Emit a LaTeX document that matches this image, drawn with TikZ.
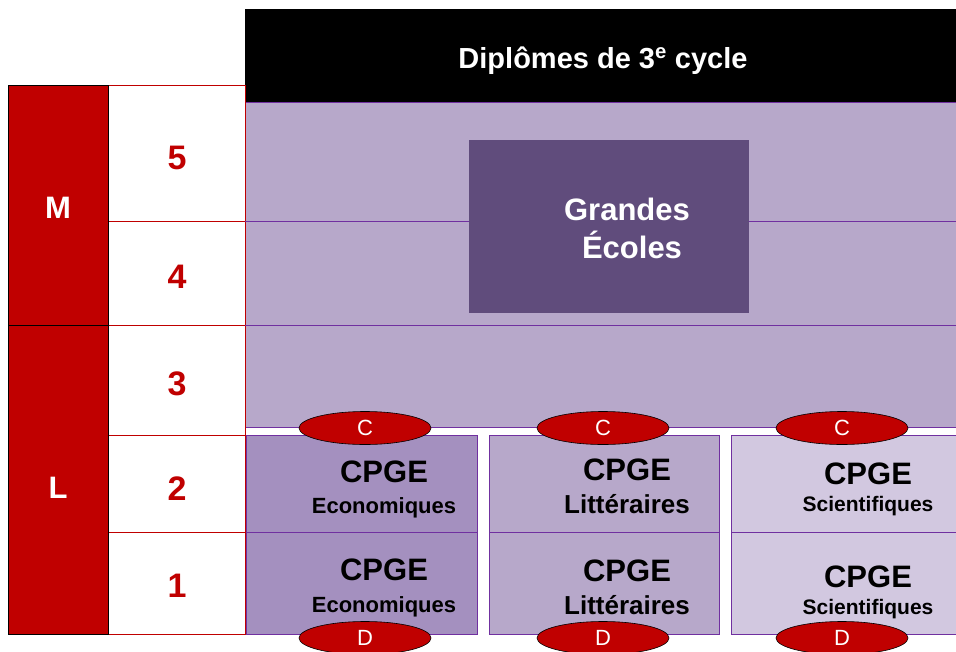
\documentclass[tikz,border=0pt]{standalone}
\usepackage{fontspec}
\setmainfont{Liberation Sans}
\usetikzlibrary{positioning}
\usetikzlibrary{shapes.geometric}
\definecolor{rouge}{HTML}{C00000}
\definecolor{violet}{HTML}{7030A0}
\definecolor{mauve}{HTML}{B7A8CA}
\definecolor{mauvefonce}{HTML}{604C7C}
\definecolor{eco}{HTML}{A490BF}
\definecolor{sci}{HTML}{D2C8E0}
\tikzset{
  box/.style = {inner sep=0pt,outer sep=0pt,anchor=north west},
  cycle/.style = {box,fill=rouge,draw=black,line width=1pt},
  annee/.style = {box,fill=white,draw=rouge,line width=0.8pt},
  zone/.style = {box,fill=mauve,draw=violet,line width=0.8pt},
  cpgebox/.style = {box,draw=violet,line width=0.8pt},
  ligne/.style = {draw=violet,line width=0.8pt},
  gros/.style = {anchor=base,font=\fontsize{34}{40}\selectfont\bfseries,text=rouge},
  lettre/.style = {anchor=base,font=\fontsize{31}{36}\selectfont\bfseries,text=white},
  cpge/.style = {anchor=base,font=\fontsize{31}{36}\selectfont\bfseries},
  filiere/.style = {anchor=base,font=\fontsize{#1}{#1}\selectfont\bfseries},
  pastille/.style = {ellipse,fill=rouge,draw=black,line width=0.6pt,
    minimum width=132pt,minimum height=33pt,inner sep=0pt,text=white,
    font=\fontsize{22}{24}\selectfont}
}
\begin{document}
\begin{tikzpicture}[x=1pt,y=-1pt]
  \useasboundingbox (0,0) rectangle (956,651);
  % bandeau du haut
  \node[box,fill=black,minimum width=711pt,minimum height=93pt] (bandeau) at (245,9) {};
  \node[anchor=base,text=white,font=\fontsize{29}{34}\selectfont\bfseries] (titre) at (603,68)
    {Diplômes de 3\textsuperscript{e} cycle};
  % zone des grandes ecoles
  \node[zone,minimum width=711pt,minimum height=325pt] (zone) at (245,102) {};
  % colonne des annees
  \node[annee,minimum width=137pt,minimum height=136pt] (n5) at (108,85) {};
  \node[annee,minimum width=137pt,minimum height=104pt] (n4) at (108,221) {};
  \node[annee,minimum width=137pt,minimum height=110pt] (n3) at (108,325) {};
  \node[annee,minimum width=137pt,minimum height=97pt] (n2) at (108,435) {};
  \node[annee,minimum width=137pt,minimum height=102pt] (n1) at (108,532) {};
  \node[gros] (t5) at (177,169) {5};
  \node[gros] (t4) at (177,288) {4};
  \node[gros] (t3) at (177,395) {3};
  \node[gros] (t2) at (177,500) {2};
  \node[gros] (t1) at (177,597) {1};
  % M et L
  \node[cycle,minimum width=100pt,minimum height=240pt] (M) at (8,85) {};
  \node[cycle,minimum width=100pt,minimum height=309pt] (L) at (8,325) {};
  \node[lettre] (tM) at (58,218) {M};
  \node[lettre] (tL) at (58,498) {L};
  % lignes des annees 4 et 3
  \draw[ligne] (zone.west |- n5.south) -- (zone.east |- n5.south);
  \draw[ligne] (zone.west |- n4.south) -- (zone.east |- n4.south);
  \node[box,fill=mauvefonce,minimum width=280pt,minimum height=173pt] (ge) at (469,140) {};
  \node[anchor=base,text=white,font=\fontsize{31}{36}\selectfont\bfseries] (geA) at (627,220) {Grandes};
  \node[anchor=base,text=white,font=\fontsize{31}{36}\selectfont\bfseries] (geB) at (632,258) {Écoles};
  % classes preparatoires
  \node[cpgebox,fill=eco,minimum width=231pt,minimum height=97pt] (eco2) at (246,435) {};
  \node[cpgebox,fill=eco,minimum width=231pt,minimum height=102pt] (eco1) at (246,532) {};
  \node[cpgebox,fill=mauve,minimum width=230pt,minimum height=97pt] (lit2) at (489,435) {};
  \node[cpgebox,fill=mauve,minimum width=230pt,minimum height=102pt] (lit1) at (489,532) {};
  \node[cpgebox,fill=sci,minimum width=226pt,minimum height=97pt] (sci2) at (731,435) {};
  \node[cpgebox,fill=sci,minimum width=226pt,minimum height=102pt] (sci1) at (731,532) {};
  \node[cpge] (eco2a) at (384,482) {CPGE};
  \node[filiere=22] (eco2b) at (384,513) {Economiques};
  \node[cpge] (eco1a) at (384,580) {CPGE};
  \node[filiere=22] (eco1b) at (384,612) {Economiques};
  \node[cpge] (lit2a) at (627,480) {CPGE};
  \node[filiere=26] (lit2b) at (627,513) {Littéraires};
  \node[cpge] (lit1a) at (627,581) {CPGE};
  \node[filiere=26] (lit1b) at (627,614) {Littéraires};
  \node[cpge] (sci2a) at (868,484) {CPGE};
  \node[filiere=21] (sci2b) at (868,511) {Scientifiques};
  \node[cpge] (sci1a) at (868,587) {CPGE};
  \node[filiere=21] (sci1b) at (868,614) {Scientifiques};
  % pastilles
  \node[pastille] (cEco) at (365,428) {C};
  \node[pastille] (cLit) at (603,428) {C};
  \node[pastille] (cSci) at (842,428) {C};
  \node[pastille] (dEco) at (365,638) {D};
  \node[pastille] (dLit) at (603,638) {D};
  \node[pastille] (dSci) at (842,638) {D};
\end{tikzpicture}
\end{document}
